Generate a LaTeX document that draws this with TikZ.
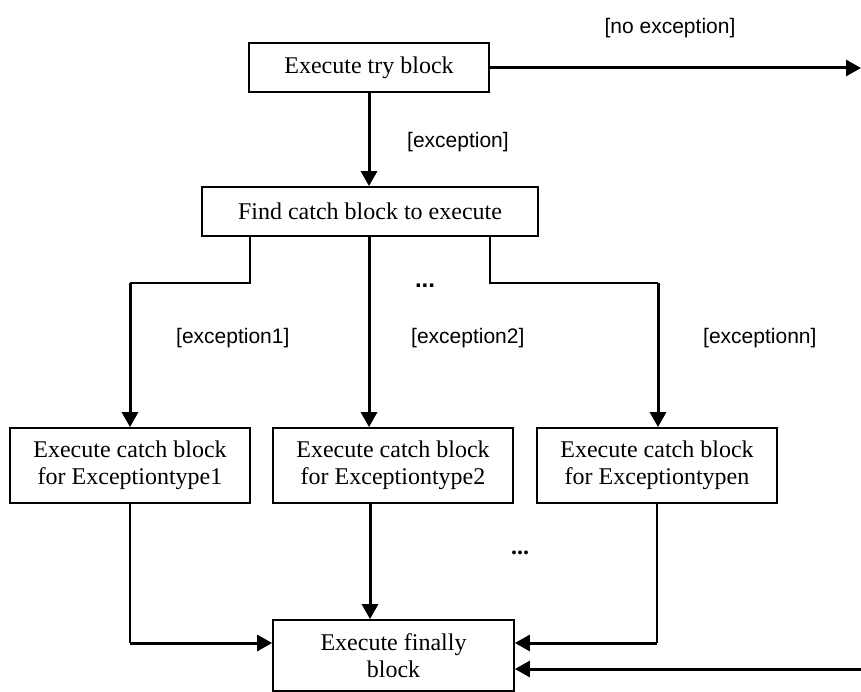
\documentclass[tikz,border=0pt]{standalone}
\usepackage{fontspec}
\setmainfont{Liberation Serif}
\newfontfamily\labelfont{Liberation Sans}
\usetikzlibrary{arrows.meta}

\tikzset{
  box/.style={draw, line width=1.8pt, minimum width=240pt, minimum height=49pt,
    align=center, inner sep=0pt, font=\fontsize{24}{27}\selectfont},
  tallbox/.style={box, minimum height=75pt},
  flow/.style={line width=3pt, -{Triangle[length=15pt,width=16pt]}},
  thinline/.style={line width=1.5pt},
  guard/.style={font=\labelfont\fontsize{21}{24}\selectfont, inner sep=0pt},
  dots/.style={inner sep=0pt}
}

\begin{document}
\begin{tikzpicture}[x=1pt, y=-1pt]
  \useasboundingbox (0,0) rectangle (861,692);

  % blocks
  \node[box] (try) at (369,67.5) {Execute try block};
  \node[box, minimum width=336pt] (find) at (370,211.5) {Find catch block to execute};
  \node[tallbox] (c1) at (130,465.5) {Execute catch block\\for Exceptiontype1};
  \node[tallbox] (c2) at (393,465.5) {Execute catch block\\for Exceptiontype2};
  \node[tallbox] (cn) at (657,465.5) {Execute catch block\\for Exceptiontypen};
  \node[tallbox, minimum width=241pt, minimum height=71pt] (fin) at (393.5,655.5) {Execute finally\\block};

  % free ends and bends
  \coordinate (out)  at (861,68);
  \coordinate (in)   at (861,669);
  \coordinate (l1)   at (250,283);
  \coordinate (l2)   at (130,283);
  \coordinate (r1)   at (490,283);
  \coordinate (r2)   at (658,283);
  \coordinate (b1)   at (130,643);
  \coordinate (bn)   at (657,643);

  % guards
  \node[guard] (gno) at (670,28) {[no exception]};
  \node[guard, anchor=west] (gex) at (407,142) {[exception]};
  \node[guard, anchor=west] (g1) at (176,338) {[exception1]};
  \node[guard, anchor=west] (g2) at (411,338) {[exception2]};
  \node[guard, anchor=west] (gn) at (703,338) {[exceptionn]};
  \node[dots, font=\labelfont\bfseries\fontsize{24}{27}\selectfont] (d1) at (425,286) {...};
  \node[dots, font=\bfseries\fontsize{24}{27}\selectfont] (d2) at (520,553) {...};

  % try block
  \draw[flow] (try.east |- out) -- (out);
  \draw[flow] (try.south) -- (try.south |- find.north);

  % dispatch to the catch blocks
  \draw[thinline] (find.south -| l1) -- (l1) -- (l2);
  \draw[flow] (l2) -- (c1.north);
  \draw[flow] (find.south -| try.south) -- (c2.north -| try.south);
  \draw[thinline] (find.south -| r1) -- (r1) -- (r2);
  \draw[flow] (r2) -- (cn.north -| r2);

  % into the finally block
  \draw[thinline] (c1.south) -- (b1);
  \draw[flow] (b1) -- (fin.west |- b1);
  \draw[flow] (c2.south -| 370,0) -- (fin.north -| 370,0);
  \draw[thinline] (cn.south) -- (bn);
  \draw[flow] (bn) -- (fin.east |- bn);
  \draw[flow] (in) -- (fin.east |- in);
\end{tikzpicture}
\end{document}
